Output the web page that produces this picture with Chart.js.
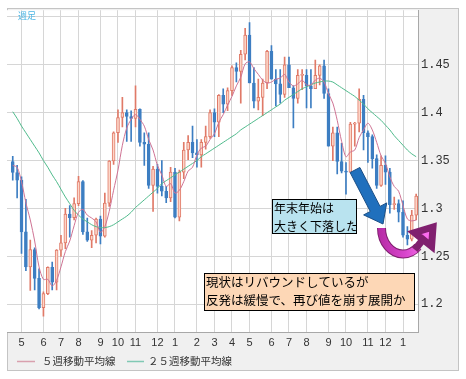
<!DOCTYPE html>
<html>
<head>
<meta charset="utf-8">
<script src="https://cdn.jsdelivr.net/npm/chart.js"></script>
<style>
html, body { margin: 0; padding: 0; background: #fff; }
#wrap { width: 466px; height: 379px; }
</style>
</head>
<body>
<div id="wrap"><canvas id="weeklyChart" width="466" height="379"></canvas></div>
<script>
// 週足 (first week = 2010/04/19, one entry per week)
const opens = [1.3490,1.3375,1.3295,1.2755,1.2390,1.2570,1.2270,1.1965,1.2110,1.2385,
  1.2230,1.2565,1.2640,1.2940,1.2905,1.3050,1.3280,1.2755,1.2670,1.2720,
  1.2890,1.2710,1.3055,1.3495,1.3790,1.3950,1.4000,1.3960,1.3940,1.4035,
  1.3690,1.3670,1.3240,1.3410,1.3230,1.3180,1.3110,1.3380,1.2910,1.3380,
  1.3610,1.3690,1.3580,1.3560,1.3690,1.3750,1.4000,1.3900,1.4180,1.4090,
  1.4230,1.4470,1.4430,1.4610,1.4810,1.4310,1.4120,1.4160,1.4310,1.4640,
  1.4350,1.4300,1.4190,1.4500,1.4260,1.4150,1.4390,1.4390,1.4280,1.4250,
  1.4390,1.4490,1.4200,1.3650,1.3790,1.3490,1.3390,1.3380,1.3880,1.3890,
  1.4140,1.3790,1.3750,1.3520,1.3240,1.3450,1.3380,1.3040,1.3050,1.2960,
  1.2720,1.2680,1.2930];
const highs = [1.3545,1.3450,1.3330,1.3095,1.2670,1.2590,1.2370,1.2130,1.2390,1.2440,
  1.2570,1.2720,1.3000,1.3030,1.3110,1.3335,1.3290,1.2900,1.2770,1.2900,
  1.2920,1.3160,1.3500,1.3800,1.4030,1.4160,1.4030,1.4020,1.4280,1.4040,
  1.3790,1.3790,1.3440,1.3460,1.3500,1.3230,1.3430,1.3420,1.3400,1.3690,
  1.3760,1.3860,1.3720,1.3720,1.3860,1.4030,1.4040,1.4190,1.4250,1.4260,
  1.4490,1.4520,1.4650,1.4880,1.4940,1.4470,1.4350,1.4350,1.4650,1.4700,
  1.4450,1.4450,1.4580,1.4580,1.4280,1.4450,1.4450,1.4450,1.4450,1.4550,
  1.4500,1.4550,1.4250,1.3850,1.3850,1.3680,1.3480,1.3900,1.3900,1.4250,
  1.4180,1.3810,1.3770,1.3560,1.3550,1.3550,1.3420,1.3120,1.3090,1.3080,
  1.2810,1.2980,1.3150];
const lows = [1.3295,1.3110,1.2530,1.2350,1.2145,1.2150,1.1950,1.1876,1.2100,1.2150,
  1.2150,1.2500,1.2580,1.2700,1.2880,1.3030,1.2730,1.2655,1.2590,1.2640,
  1.2630,1.2700,1.3020,1.3460,1.3690,1.3850,1.3700,1.3700,1.3850,1.3650,
  1.3450,1.3210,1.2970,1.3160,1.3130,1.3060,1.3070,1.2900,1.2870,1.3310,
  1.3510,1.3530,1.3430,1.3430,1.3620,1.3730,1.3750,1.3750,1.4000,1.4020,
  1.4180,1.4320,1.4100,1.4550,1.4310,1.4050,1.4030,1.3970,1.4250,1.4350,
  1.4070,1.4100,1.4160,1.4260,1.3840,1.4100,1.4240,1.4050,1.4050,1.4250,
  1.4290,1.4150,1.3650,1.3500,1.3360,1.3370,1.3150,1.3380,1.3650,1.3800,
  1.3610,1.3480,1.3420,1.3210,1.3230,1.3250,1.2950,1.2990,1.2860,1.2700,
  1.2620,1.2660,1.2880];
const closes = [1.3375,1.3295,1.2755,1.2390,1.2570,1.2270,1.1965,1.2110,1.2385,1.2230,
  1.2565,1.2640,1.2940,1.2905,1.3050,1.3280,1.2755,1.2670,1.2720,1.2890,
  1.2710,1.3055,1.3495,1.3790,1.3950,1.4000,1.3960,1.3940,1.4035,1.3690,
  1.3670,1.3240,1.3410,1.3230,1.3180,1.3110,1.3380,1.2910,1.3380,1.3610,
  1.3690,1.3580,1.3560,1.3690,1.3750,1.4000,1.3900,1.4180,1.4090,1.4230,
  1.4470,1.4430,1.4610,1.4810,1.4310,1.4120,1.4160,1.4310,1.4640,1.4350,
  1.4300,1.4190,1.4500,1.4260,1.4150,1.4390,1.4390,1.4280,1.4250,1.4390,
  1.4490,1.4200,1.3650,1.3790,1.3490,1.3390,1.3380,1.3880,1.3890,1.4140,
  1.3790,1.3750,1.3520,1.3240,1.3450,1.3380,1.3040,1.3050,1.2960,1.2720,
  1.2680,1.2930,1.3130];
const ma5 = [1.345,1.343,1.328,1.306,1.288,1.266,1.239,1.226,1.226,1.219,
  1.225,1.239,1.255,1.266,1.282,1.296,1.299,1.293,1.290,1.286,
  1.275,1.281,1.297,1.319,1.340,1.366,1.384,1.393,1.398,1.393,
  1.386,1.372,1.361,1.345,1.335,1.323,1.326,1.316,1.319,1.328,
  1.339,1.343,1.356,1.363,1.365,1.372,1.378,1.390,1.398,1.408,
  1.417,1.428,1.437,1.451,1.453,1.446,1.440,1.434,1.431,1.432,
  1.435,1.436,1.440,1.432,1.428,1.430,1.434,1.429,1.429,1.434,
  1.436,1.432,1.420,1.410,1.392,1.370,1.354,1.359,1.361,1.374,
  1.382,1.389,1.382,1.369,1.355,1.347,1.333,1.323,1.318,1.303,
  1.289,1.287,1.288];
const ma25 = [1.401,1.394,1.386,1.379,1.372,1.365,1.358,1.350,1.343,1.335,
  1.328,1.320,1.312,1.305,1.298,1.293,1.289,1.286,1.283,1.281,
  1.280,1.280,1.281,1.283,1.286,1.289,1.292,1.296,1.301,1.305,
  1.309,1.313,1.317,1.321,1.326,1.329,1.332,1.335,1.338,1.341,
  1.344,1.347,1.350,1.354,1.357,1.360,1.363,1.366,1.369,1.372,
  1.375,1.378,1.382,1.385,1.388,1.391,1.394,1.397,1.400,1.403,
  1.406,1.409,1.413,1.416,1.419,1.422,1.425,1.427,1.429,1.431,
  1.432,1.433,1.433,1.432,1.429,1.426,1.423,1.420,1.417,1.413,
  1.409,1.404,1.400,1.396,1.392,1.387,1.382,1.376,1.371,1.366,
  1.361,1.357,1.354];

// 月の最初の週と目盛りラベル
const monthStart = [2,7,11,15,20,24,28,33,37,42,46,50,54,59,63,67,72,76,81,85,89];
const monthLabels = ['5','6','7','8','9','10','11','12','1','2','3','4','5','6','7','8','9','10','11','12','1'];
const yTicks = [1.2,1.25,1.3,1.35,1.4,1.45,1.5];
const yTickLabels = ['1.2','1.25','1.3','1.35','1.4','1.45',''];

const seriesNames = ['５週移動平均線', '２５週移動平均線'];
const noteDrop = ['年末年始は', '大きく下落した'];
const noteNow = ['現状はリバウンドしているが', '反発は緩慢で、再び値を崩す展開か'];

const UP_FILL = '#fcd6c8', UP_LINE = '#e07a68', DOWN = '#3d7ec2';
const isUp = closes.map((c, i) => c >= opens[i]);
const jp = '"Noto Sans CJK JP", sans-serif';

function drawArrow(ctx, x1, y1, x2, y2, w, hw, hl) {
    const dx = x2 - x1, dy = y2 - y1;
    const len = Math.hypot(dx, dy);
    const ux = dx / len, uy = dy / len, px = -uy, py = ux;
    const bx = x2 - ux * hl, by = y2 - uy * hl;
    ctx.beginPath();
    ctx.moveTo(x1 + px * w / 2, y1 + py * w / 2);
    ctx.lineTo(bx + px * w / 2, by + py * w / 2);
    ctx.lineTo(bx + px * hw / 2, by + py * hw / 2);
    ctx.lineTo(x2, y2);
    ctx.lineTo(bx - px * hw / 2, by - py * hw / 2);
    ctx.lineTo(bx - px * w / 2, by - py * w / 2);
    ctx.lineTo(x1 - px * w / 2, y1 - py * w / 2);
    ctx.closePath();
}

function noteBox(ctx, x, y, w, h, fill, lines, size) {
    ctx.fillStyle = fill;
    ctx.fillRect(x, y, w, h);
    ctx.strokeStyle = '#000';
    ctx.lineWidth = 1;
    ctx.strokeRect(x + 0.5, y + 0.5, w - 1, h - 1);
    ctx.fillStyle = '#000';
    ctx.font = size + 'px ' + jp;
    ctx.textBaseline = 'middle';
    ctx.textAlign = 'left';
    lines.forEach((t, i) => ctx.fillText(t, x + 2, y + 9 + i * 18));
}

const framePlugin = {
    id: 'frame',
    beforeDraw(chart) {
        const { ctx, chartArea: a } = chart;
        ctx.save();
        ctx.fillStyle = '#f0f0f0';
        ctx.fillRect(7, 8, 452, 363);
        ctx.strokeStyle = '#c4c4c4';
        ctx.lineWidth = 1;
        ctx.strokeRect(7.5, 8.5, 451, 362);
        ctx.fillStyle = '#fff';
        ctx.fillRect(a.left, a.top, a.right - a.left, a.bottom - a.top);
        ctx.restore();
    },
    afterDraw(chart) {
        const ctx = chart.ctx;
        ctx.save();

        // 週足
        ctx.fillStyle = '#4db6e4';
        ctx.font = '9px ' + jp;
        ctx.textBaseline = 'middle';
        ctx.fillText('週足', 18, 16);

        // 青い矢印
        drawArrow(ctx, 355, 170, 383, 224, 11, 26, 17);
        ctx.fillStyle = '#2070bd';
        ctx.fill();
        ctx.strokeStyle = '#1b4f86';
        ctx.lineWidth = 1;
        ctx.stroke();

        // ピンクの U 字矢印
        const g = ctx.createLinearGradient(378, 0, 432, 0);
        g.addColorStop(0, '#b52aa4');
        g.addColorStop(0.5, '#d845cc');
        g.addColorStop(1, '#ff80f4');
        ctx.beginPath();
        ctx.ellipse(403, 228, 21.5, 26, 0, Math.PI, 0.80, true);
        ctx.strokeStyle = '#80206f';
        ctx.lineWidth = 9;
        ctx.stroke();
        ctx.strokeStyle = g;
        ctx.lineWidth = 7;
        ctx.stroke();
        drawArrow(ctx, 417, 247, 433, 227, 0.1, 22, 16);
        ctx.fillStyle = '#fb6cef';
        ctx.fill();
        ctx.strokeStyle = '#80206f';
        ctx.stroke();

        noteBox(ctx, 272, 199, 85, 35, '#b9e3ef', noteDrop, 12);
        noteBox(ctx, 204, 273, 211, 38, '#fdd7b6', noteNow, 12.5);

        // 凡例
        const ly = 361;
        ctx.font = '10.5px ' + jp;
        ctx.textBaseline = 'middle';
        ctx.lineWidth = 1.5;
        [[17, 35, 42], [127, 144, 148]].forEach((p, k) => {
            const ds = chart.data.datasets[k + 2];
            ctx.strokeStyle = ds.legendColor;
            ctx.beginPath();
            ctx.moveTo(p[0], ly + 0.5);
            ctx.lineTo(p[1], ly + 0.5);
            ctx.stroke();
            ctx.fillStyle = '#333';
            ctx.fillText(ds.label, p[2], ly);
        });
        ctx.restore();
    }
};

new Chart(document.getElementById('weeklyChart'), {
    type: 'bar',
    data: {
        datasets: [
            {
                label: 'wick',
                data: lows.map((l, i) => ({ x: i, y: [l, highs[i]] })),
                backgroundColor: isUp.map(u => u ? UP_LINE : DOWN),
                barThickness: 1,
                grouped: false,
                order: 2
            },
            {
                label: 'body',
                data: opens.map((o, i) => ({ x: i, y: [o, closes[i]] })),
                backgroundColor: isUp.map(u => u ? UP_FILL : DOWN),
                borderColor: isUp.map(u => u ? UP_LINE : DOWN),
                borderWidth: 1,
                borderSkipped: false,
                barThickness: 3,
                minBarLength: 1,
                grouped: false,
                order: 1
            },
            {
                type: 'line',
                label: seriesNames[0],
                data: ma5.map((v, i) => ({ x: i, y: v })),
                borderColor: '#cf7394',
                legendColor: '#d9a0ae',
                borderWidth: 1,
                pointRadius: 0,
                tension: 0.3,
                order: 0
            },
            {
                type: 'line',
                label: seriesNames[1],
                data: ma25.map((v, i) => ({ x: i, y: v })),
                borderColor: '#4fbb8c',
                legendColor: '#80c9b4',
                borderWidth: 1,
                pointRadius: 0,
                tension: 0.3,
                order: 0
            }
        ]
    },
    options: {
        responsive: false,
        animation: false,
        devicePixelRatio: 1,
        layout: { padding: { left: 7, top: 8, right: 8, bottom: 27 } },
        plugins: {
            legend: { display: false },
            tooltip: { enabled: false }
        },
        scales: {
            x: {
                type: 'linear',
                min: -1.31,
                max: 92.42,
                offset: false,
                afterBuildTicks(scale) {
                    scale.ticks = monthStart.map(v => ({ value: v }));
                },
                afterFit(scale) { scale.height = 20; },
                ticks: {
                    autoSkip: false,
                    maxRotation: 0,
                    padding: 4,
                    color: '#333',
                    font: { family: 'Liberation Sans', size: 11 },
                    callback: v => monthLabels[monthStart.indexOf(v)]
                },
                grid: { color: '#d6d6d6', drawTicks: false, offset: false },
                border: { color: '#a8a8a8' }
            },
            y: {
                position: 'right',
                min: 1.171,
                max: 1.507,
                afterBuildTicks(scale) {
                    scale.ticks = yTicks.map(v => ({ value: v }));
                },
                afterFit(scale) { scale.width = 40; },
                ticks: {
                    padding: 3,
                    color: '#333',
                    font: { family: 'Liberation Mono', size: 12 },
                    callback: v => yTickLabels[yTicks.indexOf(v)]
                },
                grid: { color: '#d6d6d6', drawTicks: false },
                border: { color: '#a8a8a8' }
            }
        }
    },
    plugins: [framePlugin]
});
</script>
</body>
</html>
